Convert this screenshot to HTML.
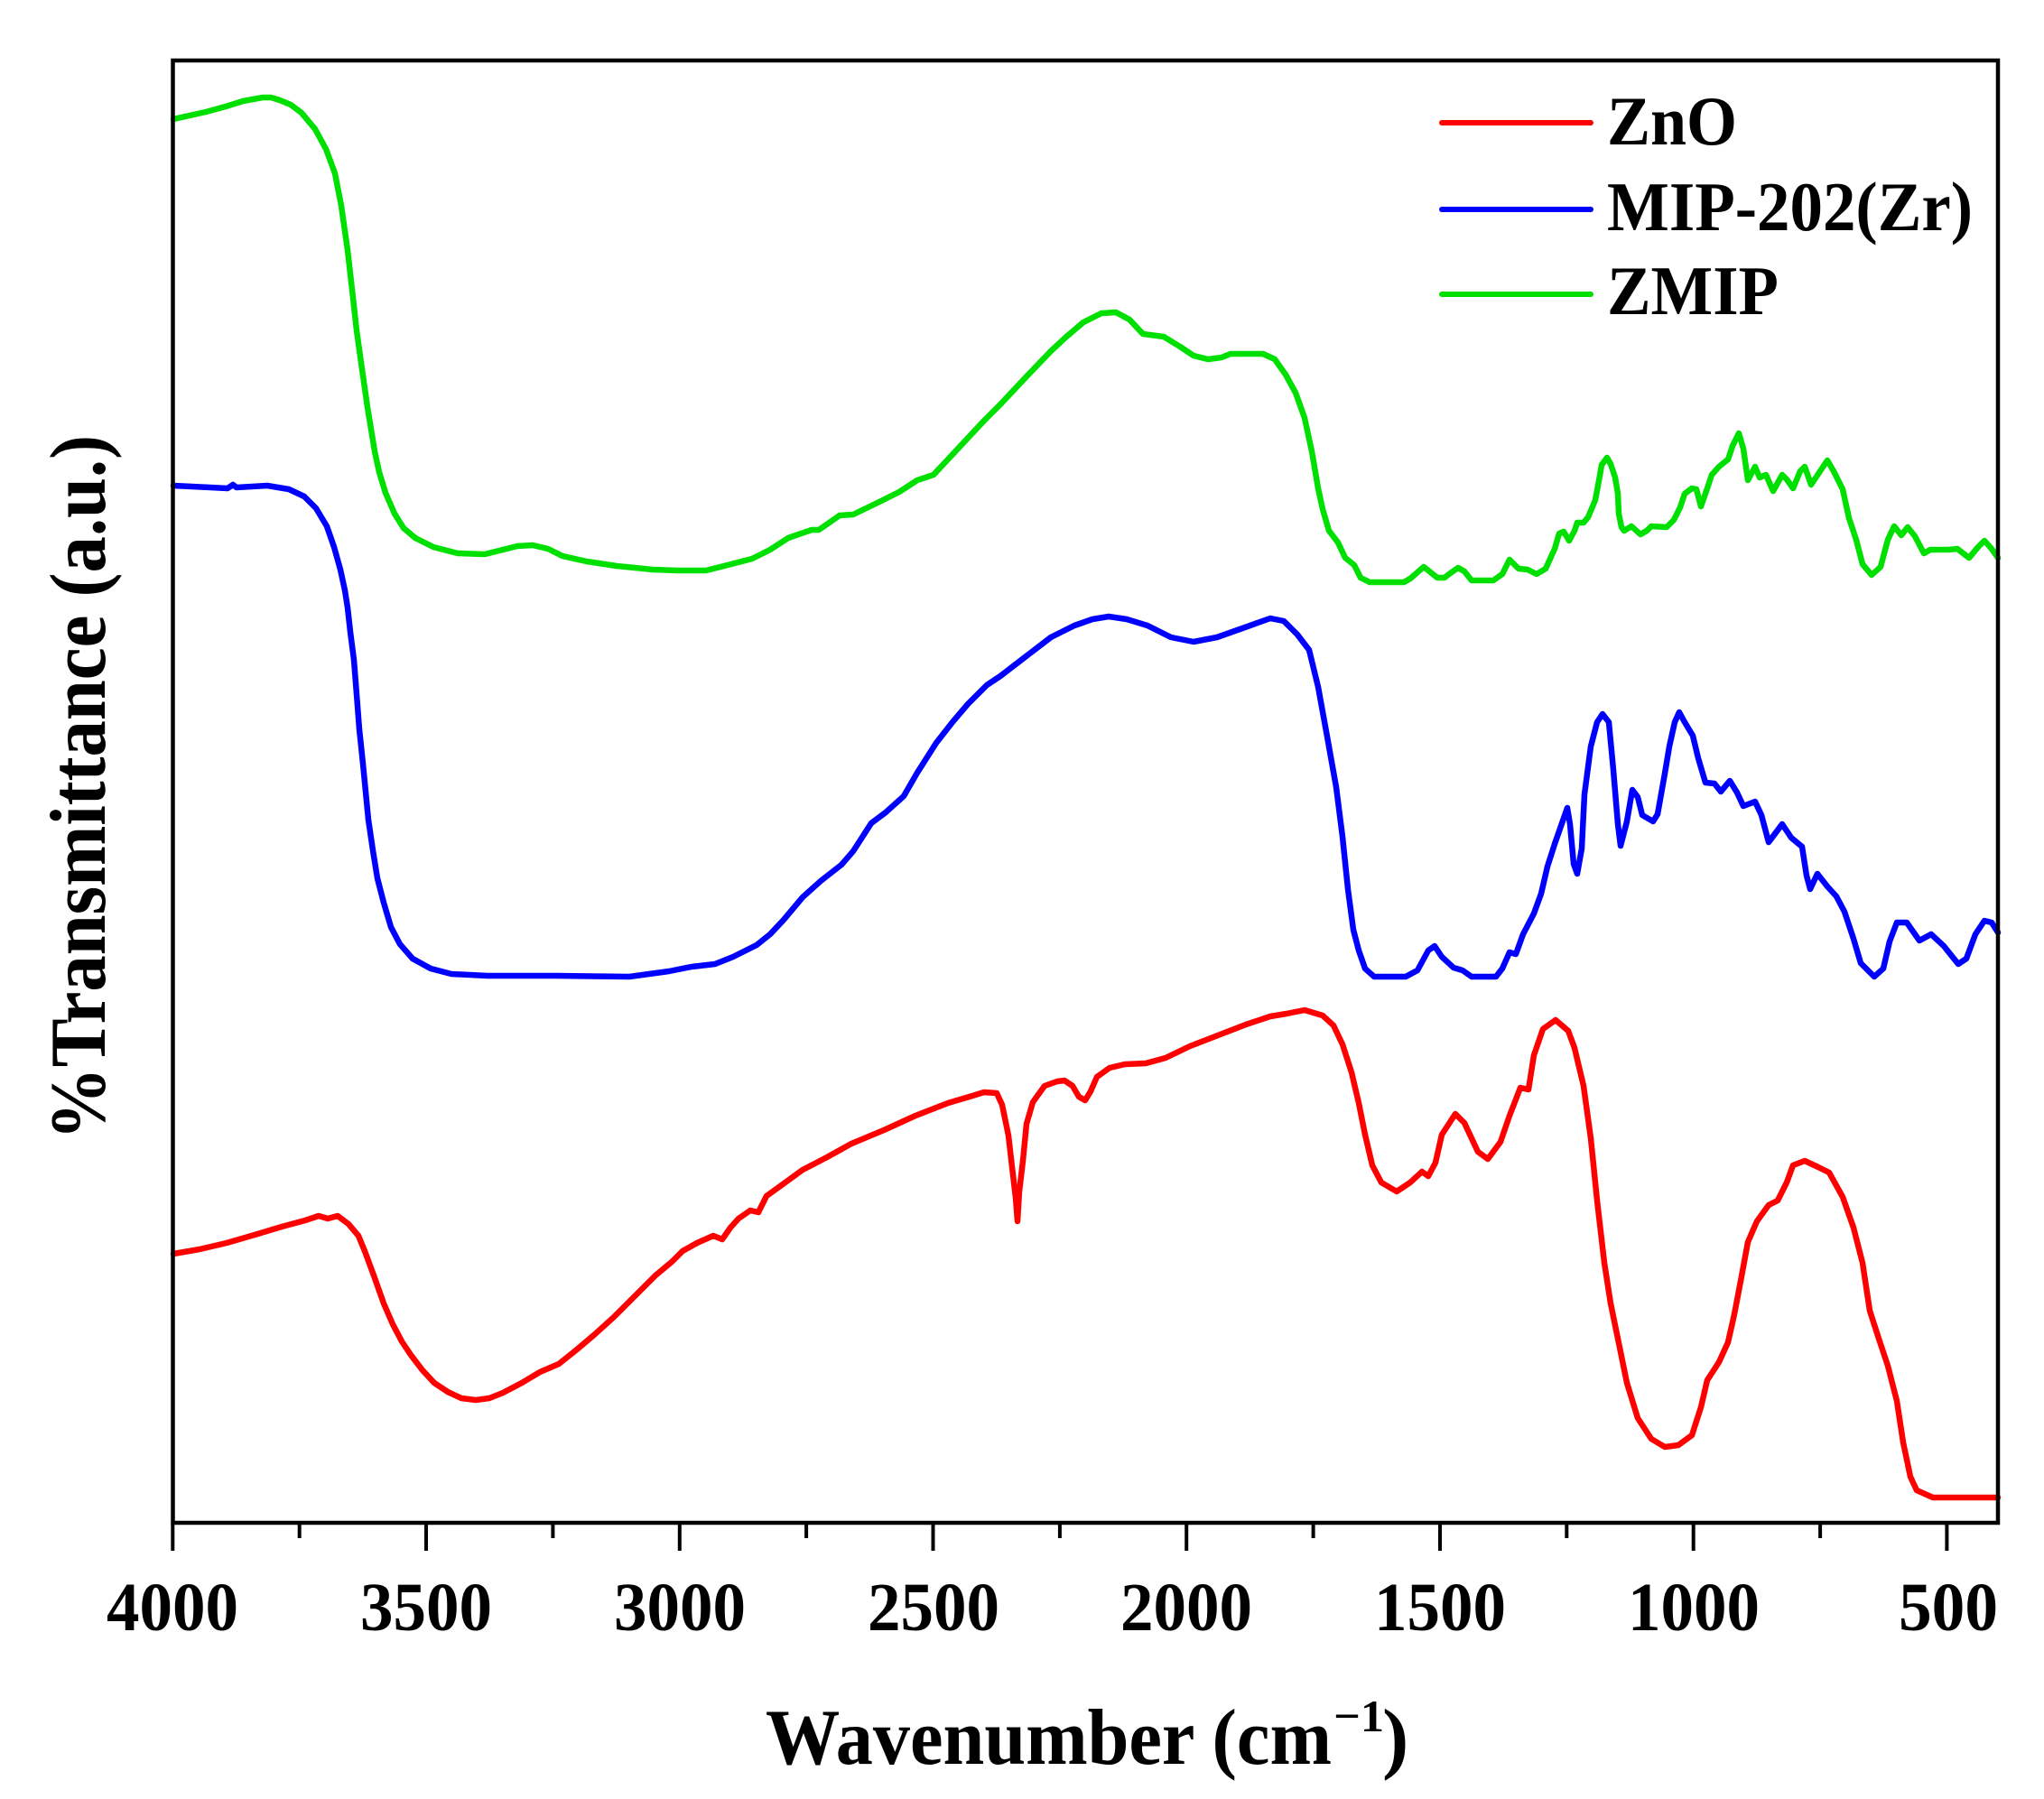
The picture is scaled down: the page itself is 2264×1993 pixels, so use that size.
<!DOCTYPE html>
<html>
<head>
<meta charset="utf-8">
<style>
html,body{margin:0;padding:0;background:#fff;}
svg{display:block;}
text{font-family:"Liberation Serif","Times New Roman",serif;font-weight:bold;fill:#000;}
</style>
</head>
<body>
<svg width="2264" height="1993" viewBox="0 0 2264 1993" xmlns="http://www.w3.org/2000/svg">
<rect x="0" y="0" width="2264" height="1993" fill="#fff"/>

<!-- series -->
<g fill="none" stroke-width="6.5" stroke-linejoin="round" stroke-linecap="round">
<polyline stroke="#00e000" points="192,132 210,128 228,124 250,118 269,112 291,108 300,108 310,111 322,116 334,125 349,143 361,165 371,192 378,228 385,277 390,321 395,366 400,402 407,451 415,500 420,523 427,546 437,569 447,585 460,596 480,606 507,613 537,614 553,610 573,605 590,604 607,608 623,616 650,622 683,627 723,631 750,632 782,632 802,627 833,619 853,609 873,596 899,587 907,587 930,571 945,570 976,555 996,545 1016,532 1034,526 1062,496 1090,466 1108,448 1139,415 1164,389 1180,374 1200,357 1220,347 1236,346 1251,354 1266,370 1289,373 1307,384 1322,394 1338,398 1353,396 1363,392 1399,392 1412,398 1424,415 1435,435 1445,463 1453,500 1460,541 1465,564 1472,588 1482,601 1490,618 1500,626 1507,640 1517,645 1555,645 1562,641 1577,628 1592,640 1600,640 1605,636 1615,629 1622,633 1630,643 1654,643 1664,636 1672,620 1682,630 1692,631 1702,636 1712,630 1722,608 1727,591 1732,589 1738,599 1744,588 1747,579 1754,579 1759,573 1767,554 1772,527 1774,515 1780,507 1784,514 1789,529 1792,547 1793,569 1796,584 1799,588 1807,583 1817,592 1824,588 1829,583 1846,584 1854,576 1861,562 1866,547 1874,541 1879,542 1884,561 1891,541 1896,526 1904,517 1914,509 1919,494 1926,480 1931,497 1936,532 1944,517 1949,529 1956,526 1964,544 1974,526 1979,531 1986,541 1994,522 1999,517 2006,537 2016,522 2024,510 2031,522 2041,542 2048,574 2056,598 2063,625 2073,637 2083,628 2091,598 2098,583 2106,593 2113,584 2121,594 2131,613 2138,609 2158,609 2168,608 2181,618 2191,606 2198,599 2206,608 2213,618"/>
<polyline stroke="#0000ff" points="192,538 233,540 252,541 258,537 262,540 296,538 320,542 337,550 350,563 362,583 370,606 377,631 382,654 385,673 388,700 392,731 395,769 398,808 402,846 405,877 408,908 413,942 418,973 425,1000 433,1027 443,1046 457,1062 477,1073 500,1079 540,1081 617,1081 697,1082 741,1076 766,1071 792,1068 812,1060 838,1047 853,1035 868,1019 889,994 909,976 932,958 945,943 965,912 981,900 1001,882 1016,856 1037,823 1055,800 1072,780 1093,759 1108,749 1134,729 1164,706 1190,693 1210,686 1228,683 1248,686 1271,693 1297,706 1322,711 1348,706 1379,695 1407,685 1422,688 1437,703 1450,720 1460,761 1470,816 1480,872 1487,927 1493,985 1499,1030 1505,1053 1512,1073 1522,1082 1557,1082 1570,1075 1582,1053 1589,1048 1597,1060 1610,1072 1620,1075 1630,1082 1657,1082 1664,1073 1672,1055 1679,1057 1687,1035 1699,1012 1707,990 1714,960 1722,935 1729,915 1736,895 1739,913 1743,957 1747,968 1752,940 1755,880 1762,827 1769,800 1775,791 1782,800 1787,853 1792,913 1795,937 1802,910 1808,875 1814,883 1819,903 1831,910 1836,902 1844,857 1849,827 1855,800 1860,789 1866,800 1875,815 1881,840 1889,867 1899,868 1906,877 1916,865 1924,878 1931,893 1944,888 1951,903 1959,933 1974,913 1984,928 1996,938 2001,970 2005,985 2013,968 2024,982 2034,993 2043,1010 2053,1040 2061,1067 2076,1082 2086,1073 2093,1043 2101,1022 2112,1022 2126,1042 2139,1035 2153,1048 2169,1068 2178,1062 2188,1035 2198,1020 2206,1022 2213,1033"/>
<polyline stroke="#ff0000" points="192,1389 221,1384 251,1377 282,1368 312,1359 338,1352 353,1347 363,1350 374,1347 386,1356 397,1369 404,1386 414,1413 425,1444 435,1467 445,1486 455,1501 468,1518 481,1532 496,1542 511,1549 527,1551 542,1549 557,1543 578,1532 598,1520 619,1511 639,1495 659,1478 680,1459 705,1434 726,1413 744,1398 756,1386 772,1377 790,1369 800,1373 809,1360 818,1350 831,1341 840,1343 849,1325 867,1312 889,1296 916,1282 943,1267 979,1252 1014,1236 1050,1222 1077,1214 1090,1210 1104,1211 1110,1224 1117,1258 1121,1293 1125,1327 1127,1353 1129,1320 1133,1286 1137,1245 1144,1221 1157,1203 1171,1198 1179,1197 1188,1203 1195,1215 1202,1219 1208,1209 1215,1193 1229,1183 1246,1179 1269,1178 1291,1172 1318,1159 1349,1147 1380,1135 1407,1126 1425,1123 1445,1119 1465,1125 1477,1136 1487,1157 1497,1188 1505,1222 1512,1257 1520,1291 1530,1310 1547,1320 1562,1310 1575,1298 1582,1303 1590,1288 1597,1257 1612,1234 1622,1244 1637,1276 1648,1284 1662,1265 1672,1236 1684,1205 1693,1207 1699,1169 1709,1140 1723,1130 1737,1142 1744,1161 1754,1203 1762,1261 1769,1330 1777,1399 1784,1444 1792,1483 1802,1532 1814,1571 1829,1594 1844,1603 1859,1601 1874,1590 1884,1559 1891,1529 1904,1509 1914,1487 1921,1456 1929,1414 1936,1376 1946,1353 1959,1335 1969,1330 1979,1310 1986,1291 1999,1286 2014,1293 2026,1299 2041,1326 2053,1360 2063,1399 2071,1452 2081,1483 2091,1513 2101,1552 2108,1598 2116,1636 2123,1651 2141,1659 2213,1659"/>
</g>

<!-- frame -->
<rect x="191.5" y="67" width="2021.5" height="1620" fill="none" stroke="#000" stroke-width="4.5"/>

<!-- ticks -->
<g stroke="#000" stroke-width="4">
<line x1="191.3" y1="1687" x2="191.3" y2="1718"/>
<line x1="331.7" y1="1687" x2="331.7" y2="1704"/>
<line x1="472.0" y1="1687" x2="472.0" y2="1718"/>
<line x1="612.4" y1="1687" x2="612.4" y2="1704"/>
<line x1="752.8" y1="1687" x2="752.8" y2="1718"/>
<line x1="893.1" y1="1687" x2="893.1" y2="1704"/>
<line x1="1033.5" y1="1687" x2="1033.5" y2="1718"/>
<line x1="1173.9" y1="1687" x2="1173.9" y2="1704"/>
<line x1="1314.2" y1="1687" x2="1314.2" y2="1718"/>
<line x1="1454.6" y1="1687" x2="1454.6" y2="1704"/>
<line x1="1595.0" y1="1687" x2="1595.0" y2="1718"/>
<line x1="1735.3" y1="1687" x2="1735.3" y2="1704"/>
<line x1="1875.7" y1="1687" x2="1875.7" y2="1718"/>
<line x1="2016.1" y1="1687" x2="2016.1" y2="1704"/>
<line x1="2156.4" y1="1687" x2="2156.4" y2="1718"/>
</g>

<!-- tick labels -->
<g font-size="76" text-anchor="middle">
<text x="191" y="1806" textLength="146" lengthAdjust="spacingAndGlyphs">4000</text>
<text x="472" y="1806" textLength="146" lengthAdjust="spacingAndGlyphs">3500</text>
<text x="753" y="1806" textLength="146" lengthAdjust="spacingAndGlyphs">3000</text>
<text x="1034" y="1806" textLength="146" lengthAdjust="spacingAndGlyphs">2500</text>
<text x="1314" y="1806" textLength="146" lengthAdjust="spacingAndGlyphs">2000</text>
<text x="1595" y="1806" textLength="146" lengthAdjust="spacingAndGlyphs">1500</text>
<text x="1876" y="1806" textLength="146" lengthAdjust="spacingAndGlyphs">1000</text>
<text x="2158" y="1806" textLength="110" lengthAdjust="spacingAndGlyphs">500</text>
</g>

<!-- x axis title -->
<text x="848" y="1954" font-size="88" textLength="627" lengthAdjust="spacingAndGlyphs">Wavenumber (cm</text>
<text x="1477" y="1918" font-size="50" textLength="56" lengthAdjust="spacingAndGlyphs">&#8722;1</text>
<text x="1531" y="1954" font-size="88">)</text>

<!-- y axis title -->
<text transform="translate(116,1263) rotate(-90)" font-size="88" textLength="781" lengthAdjust="spacingAndGlyphs">%Transmittance (a.u.)</text>

<!-- legend -->
<g stroke-width="6" stroke-linecap="round">
<line x1="1597" y1="136" x2="1762" y2="136" stroke="#ff0000"/>
<line x1="1597" y1="232" x2="1762" y2="232" stroke="#0000ff"/>
<line x1="1597" y1="326" x2="1762" y2="326" stroke="#00e000"/>
</g>
<g font-size="77">
<text x="1780" y="160" textLength="144" lengthAdjust="spacingAndGlyphs">ZnO</text>
<text x="1780" y="255" textLength="405" lengthAdjust="spacingAndGlyphs">MIP-202(Zr)</text>
<text x="1780" y="348" textLength="190" lengthAdjust="spacingAndGlyphs">ZMIP</text>
</g>
</svg>
</body>
</html>
